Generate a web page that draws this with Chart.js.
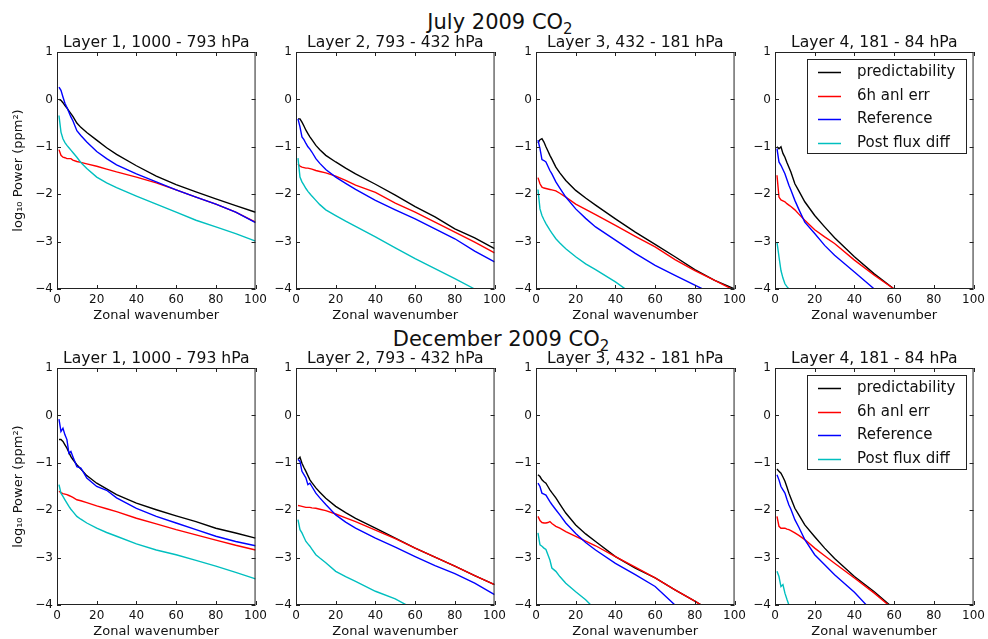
<!DOCTYPE html>
<html>
<head>
<meta charset="utf-8">
<script src="https://cdn.jsdelivr.net/npm/chart.js@4.4.1/dist/chart.umd.min.js"></script>
<style>
  html, body { margin: 0; padding: 0; background: #fff; }
  #fig { position: relative; width: 988px; height: 639px; overflow: hidden; font-family: 'DejaVu Sans', sans-serif; color: #111; }
  #fig canvas { position: absolute; }
  .suptitle { position: absolute; width: 300px; text-align: center; font-size: 21px; line-height: 21px; white-space: nowrap; }
  .suptitle sub { font-size: 15px; vertical-align: -5px; line-height: 0; }
</style>
</head>
<body>
<div id="fig">
  <div class="suptitle" style="left:350px; top:12px;">July 2009 CO<sub>2</sub></div>
  <div class="suptitle" style="left:351px; top:329px;">December 2009 CO<sub>2</sub></div>
</div>
<script>
// ── Data ───────────────────────────────────────────────────────────────────
const WAVENUMBER = [1, 2, 3, 4, 5, 6, 7, 8, 10, 12, 15, 20, 25, 30, 40, 50, 60, 70, 80, 90, 100];
const SERIES_NAMES  = ['predictability', '6h anl err', 'Reference', 'Post flux diff'];
const SERIES_COLORS = ['#000000', '#ff0000', '#0000ff', '#00bfbf'];
const LAYER_TITLES  = ['Layer 1, 1000 - 793 hPa', 'Layer 2, 793 - 432 hPa', 'Layer 3, 432 - 181 hPa', 'Layer 4, 181 - 84 hPa'];
const X_TICKS = [0, 20, 40, 60, 80, 100];
const Y_TICKS = [-4, -3, -2, -1, 0, 1];

// July 2009
const jul1Pred = [0.0, -0.02, -0.07, -0.13, -0.18, -0.24, -0.3, -0.36, -0.5, -0.59, -0.7, -0.86, -1.02, -1.16, -1.4, -1.62, -1.8, -1.95, -2.1, -2.24, -2.38];
const jul1Anl  = [-1.06, -1.18, -1.22, -1.23, -1.25, -1.25, -1.25, -1.28, -1.31, -1.33, -1.36, -1.41, -1.47, -1.53, -1.64, -1.76, -1.91, -2.06, -2.21, -2.38, -2.59];
const jul1Ref  = [0.26, 0.19, 0.05, -0.08, -0.17, -0.27, -0.37, -0.45, -0.66, -0.76, -0.9, -1.1, -1.25, -1.38, -1.57, -1.74, -1.91, -2.06, -2.21, -2.38, -2.6];
const jul1Flux = [-0.34, -0.69, -0.83, -0.91, -0.97, -1.02, -1.07, -1.12, -1.22, -1.33, -1.46, -1.64, -1.76, -1.86, -2.04, -2.21, -2.38, -2.55, -2.69, -2.83, -2.99];

const jul2Pred = [-0.41, -0.41, -0.48, -0.56, -0.65, -0.72, -0.79, -0.85, -0.97, -1.06, -1.18, -1.32, -1.45, -1.57, -1.79, -2.02, -2.26, -2.48, -2.73, -2.92, -3.15];
const jul2Anl  = [-1.36, -1.41, -1.43, -1.44, -1.45, -1.45, -1.46, -1.47, -1.5, -1.52, -1.55, -1.62, -1.71, -1.81, -1.96, -2.19, -2.38, -2.59, -2.8, -3.01, -3.24];
const jul2Ref  = [-0.41, -0.58, -0.79, -0.85, -0.93, -1.0, -1.05, -1.11, -1.25, -1.35, -1.48, -1.64, -1.77, -1.9, -2.13, -2.33, -2.52, -2.73, -2.94, -3.2, -3.43];
const jul2Flux = [-1.24, -1.64, -1.74, -1.81, -1.88, -1.94, -1.99, -2.04, -2.13, -2.22, -2.33, -2.45, -2.57, -2.68, -2.9, -3.13, -3.36, -3.57, -3.78, -4.0, -4.22];

const jul3Pred = [-0.92, -0.85, -0.83, -0.9, -1.0, -1.09, -1.18, -1.26, -1.43, -1.55, -1.71, -1.92, -2.08, -2.23, -2.52, -2.8, -3.06, -3.32, -3.59, -3.82, -4.0];
const jul3Anl  = [-1.65, -1.78, -1.85, -1.87, -1.88, -1.89, -1.9, -1.91, -1.93, -1.98, -2.06, -2.21, -2.32, -2.43, -2.66, -2.89, -3.11, -3.38, -3.61, -3.82, -4.03];
const jul3Ref  = [-0.86, -1.04, -1.27, -1.29, -1.32, -1.41, -1.5, -1.57, -1.74, -1.87, -2.06, -2.31, -2.51, -2.69, -2.97, -3.25, -3.5, -3.71, -3.92, -4.12, null];
const jul3Flux = [-1.9, -2.31, -2.45, -2.54, -2.62, -2.69, -2.76, -2.82, -2.94, -3.03, -3.15, -3.32, -3.47, -3.59, -3.85, -4.15, null, null, null, null, null];

const jul4Pred = [-1.0, -1.04, -1.0, -1.14, -1.22, -1.33, -1.43, -1.53, -1.78, -1.93, -2.16, -2.45, -2.69, -2.92, -3.32, -3.68, -4.0, -4.35, null, null, null];
const jul4Anl  = [-1.6, -2.06, -2.12, -2.14, -2.16, -2.2, -2.23, -2.26, -2.33, -2.42, -2.55, -2.75, -2.9, -3.04, -3.39, -3.71, -4.0, -4.3, null, null, null];
const jul4Ref  = [-1.04, -1.32, -1.39, -1.48, -1.57, -1.69, -1.81, -1.91, -2.13, -2.32, -2.59, -2.83, -3.08, -3.29, -3.64, -4.0, -4.35, null, null, null, null];
const jul4Flux = [-3.01, -3.32, -3.61, -3.77, -3.89, -3.95, -4.0, -4.06, -4.2, null, null, null, null, null, null, null, null, null, null, null, null];

// December 2009
const dec1Pred = [-0.51, -0.51, -0.55, -0.62, -0.69, -0.78, -0.87, -0.93, -1.04, -1.13, -1.27, -1.43, -1.55, -1.67, -1.85, -1.99, -2.12, -2.24, -2.38, -2.48, -2.59];
const dec1Anl  = [-1.6, -1.63, -1.65, -1.66, -1.67, -1.69, -1.71, -1.73, -1.78, -1.8, -1.84, -1.91, -1.97, -2.03, -2.17, -2.29, -2.41, -2.52, -2.63, -2.74, -2.84];
const dec1Ref  = [-0.08, -0.34, -0.27, -0.41, -0.51, -0.8, -0.76, -0.87, -1.08, -1.11, -1.32, -1.5, -1.58, -1.74, -1.96, -2.13, -2.27, -2.41, -2.55, -2.66, -2.75];
const dec1Flux = [-1.46, -1.64, -1.71, -1.78, -1.85, -1.92, -1.98, -2.03, -2.13, -2.19, -2.27, -2.38, -2.47, -2.55, -2.71, -2.84, -2.94, -3.06, -3.18, -3.31, -3.45];

const dec2Pred = [-0.93, -0.88, -1.01, -1.1, -1.18, -1.27, -1.36, -1.42, -1.53, -1.62, -1.75, -1.92, -2.05, -2.17, -2.38, -2.59, -2.8, -2.99, -3.18, -3.38, -3.57];
const dec2Anl  = [-1.9, -1.91, -1.92, -1.93, -1.94, -1.94, -1.94, -1.95, -1.96, -1.98, -2.01, -2.08, -2.16, -2.24, -2.42, -2.6, -2.8, -2.99, -3.18, -3.38, -3.57];
const dec2Ref  = [-0.93, -0.97, -1.18, -1.25, -1.32, -1.46, -1.43, -1.5, -1.64, -1.74, -1.88, -2.1, -2.25, -2.38, -2.59, -2.78, -2.98, -3.17, -3.34, -3.54, -3.78];
const dec2Flux = [-2.2, -2.41, -2.48, -2.57, -2.66, -2.71, -2.76, -2.82, -2.94, -3.01, -3.11, -3.29, -3.4, -3.5, -3.71, -3.87, -4.1, null, null, null, null];

const dec3Pred = [-1.25, -1.29, -1.36, -1.4, -1.43, -1.5, -1.57, -1.63, -1.74, -1.87, -2.06, -2.31, -2.5, -2.66, -2.98, -3.22, -3.43, -3.68, -3.92, -4.17, null];
const dec3Anl  = [-2.13, -2.22, -2.26, -2.27, -2.27, -2.26, -2.24, -2.28, -2.34, -2.38, -2.45, -2.55, -2.65, -2.75, -2.98, -3.2, -3.43, -3.68, -3.92, -4.17, null];
const dec3Ref  = [-1.43, -1.5, -1.64, -1.66, -1.68, -1.75, -1.82, -1.88, -1.99, -2.1, -2.27, -2.49, -2.68, -2.84, -3.12, -3.36, -3.61, -4.0, -4.4, null, null];
const dec3Flux = [-2.48, -2.73, -2.76, -2.8, -2.83, -2.94, -3.05, -3.22, -3.29, -3.4, -3.54, -3.72, -3.89, -4.1, null, null, null, null, null, null, null];

const dec4Pred = [-1.13, -1.18, -1.22, -1.3, -1.39, -1.51, -1.64, -1.75, -1.96, -2.1, -2.31, -2.56, -2.8, -3.02, -3.4, -3.72, -4.08, null, null, null, null];
const dec4Anl  = [-2.13, -2.34, -2.38, -2.38, -2.38, -2.4, -2.41, -2.43, -2.48, -2.53, -2.62, -2.8, -2.96, -3.12, -3.43, -3.75, -4.1, null, null, null, null];
const dec4Ref  = [-1.25, -1.36, -1.5, -1.57, -1.64, -1.77, -1.89, -1.98, -2.2, -2.36, -2.62, -2.94, -3.15, -3.36, -3.73, -4.18, null, null, null, null, null];
const dec4Flux = [-3.29, -3.4, -3.61, -3.57, -3.75, -3.88, -4.0, -4.1, null, null, null, null, null, null, null, null, null, null, null, null, null];

// ── Layout ─────────────────────────────────────────────────────────────────
const COL_LEFT  = [57, 296, 536, 775];
const ROW_TOP   = [52, 368];
const PLOT_W    = 200;
const PLOT_H    = 237;
const TOP_H     = 29;   // room above the plot for the layer title
const XAXIS_H   = 38;
const RIGHT_PAD = 14;
const INK       = '#111';

Chart.defaults.font.family = "'DejaVu Sans', sans-serif";
Chart.defaults.color = INK;

// layer title centred over the plot area, like matplotlib's ax.set_title
const axTitle = {
  id: 'axTitle',
  afterDraw(chart, args, opts) {
    const { ctx, chartArea: a } = chart;
    ctx.save();
    ctx.font = "15.6px 'DejaVu Sans'";
    ctx.fillStyle = INK;
    ctx.textAlign = 'center';
    ctx.textBaseline = 'alphabetic';
    ctx.fillText(opts.text, (a.left + a.right) / 2, a.top - 5);
    ctx.restore();
  }
};

// frame on all four sides with inward tick marks (matplotlib style)
const framePlugin = {
  id: 'frame',
  afterDatasetsDraw(chart) {
    const { ctx, chartArea: a, scales: { x, y } } = chart;
    ctx.save();
    ctx.strokeStyle = '#222';
    ctx.lineWidth = 1;
    ctx.strokeRect(a.left + 0.5, a.top + 0.5, a.width - 1, a.height - 1);
    ctx.beginPath();
    x.ticks.forEach(t => {
      const px = Math.round(x.getPixelForValue(t.value)) + 0.5;
      ctx.moveTo(px, a.bottom); ctx.lineTo(px, a.bottom - 4);
      ctx.moveTo(px, a.top);    ctx.lineTo(px, a.top + 4);
    });
    y.ticks.forEach(t => {
      const py = Math.round(y.getPixelForValue(t.value)) + 0.5;
      ctx.moveTo(a.left, py);  ctx.lineTo(a.left + 4, py);
      ctx.moveTo(a.right, py); ctx.lineTo(a.right - 4, py);
    });
    ctx.stroke();
    ctx.restore();
  }
};

// legend box in the upper right of the plot area
const boxLegend = {
  id: 'boxLegend',
  afterDraw(chart, args, opts) {
    if (!opts.display) return;
    const { ctx, chartArea: a } = chart;
    const w = 159, h = 94;
    const bx = Math.round(a.right - 8 - w), by = Math.round(a.top + 7);
    ctx.save();
    ctx.fillStyle = '#fff';
    ctx.fillRect(bx, by, w, h);
    ctx.strokeStyle = '#222';
    ctx.lineWidth = 1;
    ctx.strokeRect(bx + 0.5, by + 0.5, w, h);
    ctx.font = "15px 'DejaVu Sans'";
    ctx.textBaseline = 'middle';
    chart.data.datasets.forEach((ds, i) => {
      const cy = Math.round(by + 13 + i * 23.7) + 0.5;
      ctx.strokeStyle = ds.borderColor;
      ctx.lineWidth = 1.5;
      ctx.beginPath(); ctx.moveTo(bx + 11, cy); ctx.lineTo(bx + 34, cy); ctx.stroke();
      ctx.fillStyle = INK;
      ctx.fillText(ds.label, bx + 50, cy);
    });
    ctx.restore();
  }
};

function toPoints(vals) {
  return WAVENUMBER.map((k, i) => ({ x: k, y: vals[i] }));
}

function makePanel(row, col, series, showLegend) {
  const yw = col === 0 ? 57 : 30;
  const canvas = document.createElement('canvas');
  canvas.width  = yw + PLOT_W + RIGHT_PAD;
  canvas.height = TOP_H + PLOT_H + XAXIS_H;
  canvas.style.left = (COL_LEFT[col] - yw) + 'px';
  canvas.style.top  = (ROW_TOP[row] - TOP_H) + 'px';
  document.getElementById('fig').appendChild(canvas);

  new Chart(canvas, {
    type: 'line',
    data: {
      datasets: series.map((vals, i) => ({
        label: SERIES_NAMES[i],
        data: toPoints(vals),
        borderColor: SERIES_COLORS[i],
        borderWidth: 1.4,
        pointRadius: 0,
        tension: 0,
        spanGaps: false,
        order: series.length - 1 - i,
      }))
    },
    options: {
      responsive: false,
      animation: false,
      events: [],
      layout: { padding: { top: TOP_H, right: RIGHT_PAD, bottom: 0, left: 0 } },
      plugins: {
        legend: { display: false },
        tooltip: { enabled: false },
        title: { display: false },
        axTitle: { text: LAYER_TITLES[col] },
        boxLegend: { display: showLegend },
      },
      scales: {
        x: {
          type: 'linear',
          min: X_TICKS[0], max: X_TICKS[X_TICKS.length - 1],
          afterBuildTicks: s => { s.ticks = X_TICKS.map(v => ({ value: v })); },
          afterFit: s => { s.height = XAXIS_H; },
          grid: { display: false, drawTicks: false },
          border: { display: false },
          ticks: { font: { size: 12 }, color: INK, padding: 4, maxRotation: 0, autoSkip: false },
          title: {
            display: true, text: 'Zonal wavenumber', color: INK,
            font: { size: 13 }, padding: { top: 0, bottom: 4 }
          }
        },
        y: {
          type: 'linear',
          min: Y_TICKS[0], max: Y_TICKS[Y_TICKS.length - 1],
          afterBuildTicks: s => { s.ticks = Y_TICKS.map(v => ({ value: v })); },
          afterFit: s => { s.width = yw; },
          grid: { display: false, drawTicks: false },
          border: { display: false },
          ticks: {
            font: { size: 12 }, color: INK, padding: 4, autoSkip: false,
            callback: v => String(v).replace('-', '\u2212')
          },
          title: {
            display: col === 0, text: 'log\u2081\u2080 Power (ppm\u00b2)', color: INK,
            font: { size: 13 }, padding: { top: 11, bottom: 0 }
          }
        }
      }
    },
    plugins: [axTitle, framePlugin, boxLegend]
  });
}

// ── Init ───────────────────────────────────────────────────────────────────
makePanel(0, 0, [jul1Pred, jul1Anl, jul1Ref, jul1Flux], false);
makePanel(0, 1, [jul2Pred, jul2Anl, jul2Ref, jul2Flux], false);
makePanel(0, 2, [jul3Pred, jul3Anl, jul3Ref, jul3Flux], false);
makePanel(0, 3, [jul4Pred, jul4Anl, jul4Ref, jul4Flux], true);
makePanel(1, 0, [dec1Pred, dec1Anl, dec1Ref, dec1Flux], false);
makePanel(1, 1, [dec2Pred, dec2Anl, dec2Ref, dec2Flux], false);
makePanel(1, 2, [dec3Pred, dec3Anl, dec3Ref, dec3Flux], false);
makePanel(1, 3, [dec4Pred, dec4Anl, dec4Ref, dec4Flux], true);
</script>
</body>
</html>
